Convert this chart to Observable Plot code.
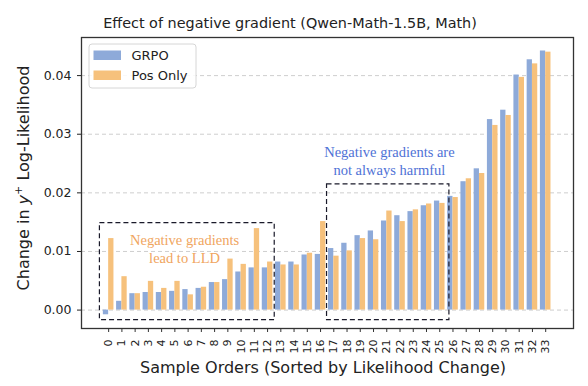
<!DOCTYPE html>
<html>
<head>
<meta charset="utf-8">
<script src="https://cdn.jsdelivr.net/npm/d3@7"></script>
<script src="https://cdn.jsdelivr.net/npm/@observablehq/plot@0.6"></script>
<style>
  html, body { margin: 0; padding: 0; background: #fff; }
  #chart svg { display: block; }
</style>
</head>
<body>
<div id="chart"></div>
<script>
const samples = d3.range(34);
const grpoValues = [-0.0008, 0.0015, 0.0028, 0.0030, 0.0030, 0.0032, 0.0035, 0.0037, 0.0047, 0.0052,
  0.0065, 0.0072, 0.0072, 0.0082, 0.0082, 0.0094, 0.0095, 0.0105, 0.0114, 0.0127,
  0.0135, 0.0152, 0.0161, 0.0168, 0.0178, 0.0186, 0.0194, 0.0219, 0.0241, 0.0325,
  0.0341, 0.0401, 0.0427, 0.0442];
const posOnlyValues = [0.0122, 0.0057, 0.0028, 0.0049, 0.0037, 0.0049, 0.0026, 0.0039, 0.0047, 0.0087,
  0.0078, 0.0139, 0.0082, 0.0077, 0.0077, 0.0097, 0.0151, 0.0092, 0.0101, 0.0122,
  0.0120, 0.0169, 0.0151, 0.0171, 0.0181, 0.0182, 0.0192, 0.0224, 0.0233, 0.0315,
  0.0332, 0.0397, 0.0420, 0.0440];
const yTicks = [0, 0.01, 0.02, 0.03, 0.04];
const seriesNames = ["GRPO", "Pos Only"];
const seriesColors = ["#8eaad9", "#f6c17c"];

// annotation boxes (data coordinates) and notes
const boxes = [
  {x1: -0.66, x2: 12.54, y1: -0.0017, y2: 0.01485},
  {x1: 16.49, x2: 25.73, y1: -0.0017, y2: 0.02143}
];
const notes = [
  {x: 5.73, y: 0.0105, text: "Negative gradients\nlead to LLD", color: "#f0a560"},
  {x: 21.2, y: 0.0256, text: "Negative gradients are\nnot always harmful", color: "#4f72d6"}
];

const W = 588, H = 386;
const barW = 0.4;
const rows = samples.flatMap(i => [
  {i, series: seriesNames[0], v: grpoValues[i], a: i - barW, b: i},
  {i, series: seriesNames[1], v: posOnlyValues[i], a: i, b: i + barW}
]);

const chart = Plot.plot({
  width: W,
  height: H,
  marginLeft: 81,
  marginRight: 15,
  marginTop: 37,
  marginBottom: 58,
  style: {fontFamily: "DejaVu Sans", color: "#222", background: "#fff"},
  x: {type: "linear", domain: [-2.05, 35.1]},
  y: {domain: [-0.00314, 0.0465]},
  color: {domain: seriesNames, range: seriesColors},
  marks: [
    Plot.ruleY(yTicks, {stroke: "#c8c8c8", strokeWidth: 0.9, strokeDasharray: "4,3"}),
    Plot.rectY(rows, {x1: "a", x2: "b", y: "v", fill: "series"}),
    Plot.rect(boxes, {x1: "x1", x2: "x2", y1: "y1", y2: "y2", fill: "none", stroke: "#1a1a2a", strokeWidth: 1.2, strokeDasharray: "5,3"}),
    Plot.text(notes, {x: "x", y: "y", text: "text", fill: d => d.color, fontFamily: "Liberation Serif", fontSize: 14.5, lineHeight: 1.22}),
    Plot.axisX({ticks: samples, tickFormat: d => String(d), tickRotate: -90, tickSize: 4, tickPadding: 7, fontSize: 11, label: null, stroke: "#333"}),
    Plot.axisY({ticks: yTicks, tickFormat: d3.format(".2f"), tickSize: 4, tickPadding: 6, fontSize: 12.5, label: null}),
    Plot.frame({stroke: "#333", strokeWidth: 1.3})
  ]
});

document.getElementById("chart").appendChild(chart);

const svg = d3.select(chart);
// title
svg.append("text").attr("x", 290).attr("y", 27.5).attr("text-anchor", "middle")
  .attr("font-family", "DejaVu Sans").attr("font-size", 14.4).attr("fill", "#222")
  .text("Effect of negative gradient (Qwen-Math-1.5B, Math)");
// x label
svg.append("text").attr("x", 323).attr("y", 373).attr("text-anchor", "middle")
  .attr("font-family", "DejaVu Sans").attr("font-size", 16).attr("fill", "#222")
  .text("Sample Orders (Sorted by Likelihood Change)");
// y label
const yl = svg.append("text").attr("transform", "translate(29,178) rotate(-90)")
  .attr("text-anchor", "middle").attr("font-family", "DejaVu Sans").attr("font-size", 16).attr("fill", "#222");
yl.append("tspan").text("Change in ");
yl.append("tspan").attr("font-style", "italic").text("y");
yl.append("tspan").attr("font-size", 11).attr("dy", -7).text("+");
yl.append("tspan").attr("dy", 7).text(" Log-Likelihood");

// legend
const lg = svg.append("g");
lg.append("rect").attr("x", 89).attr("y", 44).attr("width", 107).attr("height", 44).attr("rx", 3)
  .attr("fill", "#fff").attr("fill-opacity", 0.85).attr("stroke", "#d6d6d6");
seriesNames.forEach((name, k) => {
  const yc = 55 + k * 20;
  lg.append("rect").attr("x", 93.5).attr("y", yc - 4.5).attr("width", 27.5).attr("height", 9.5).attr("fill", seriesColors[k]);
  lg.append("text").attr("x", 131.5).attr("y", yc).attr("dy", "0.35em").attr("text-anchor", "start")
    .attr("font-family", "DejaVu Sans").attr("font-size", 13).attr("fill", "#222").text(name);
});
</script>
</body>
</html>
